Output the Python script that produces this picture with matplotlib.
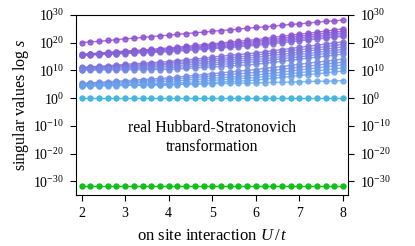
import numpy as np
import matplotlib
matplotlib.use('Agg')
import matplotlib.pyplot as plt
from matplotlib.colors import to_rgb

plt.rcParams['font.family'] = ['Liberation Serif', 'DejaVu Serif']
plt.rcParams['mathtext.fontset'] = 'custom'
plt.rcParams['mathtext.rm'] = 'Liberation Serif'
plt.rcParams['mathtext.it'] = 'Liberation Serif:italic'

# on-site interaction U/t
U = [2.0, 2.2, 2.4, 2.6, 2.8, 3.0, 3.2, 3.4, 3.6, 3.8, 4.0, 4.2, 4.4, 4.6, 4.8, 5.0,
     5.2, 5.4, 5.6, 5.8, 6.0, 6.2, 6.4, 6.6, 6.8, 7.0, 7.2, 7.4, 7.6, 7.8, 8.0]

# log10 of the singular values, largest first
top = [20.0, 20.3, 20.5, 20.8, 21.1, 21.4, 21.6, 21.9, 22.2, 22.5, 22.7, 23.0, 23.3, 23.6, 23.8, 24.1,
       24.4, 24.6, 24.9, 25.2, 25.5, 25.7, 26.0, 26.3, 26.6, 26.8, 27.1, 27.4, 27.7, 27.9, 28.2]
band2 = [
    [15.8, 16.0, 16.3, 16.5, 16.7, 17.0, 17.2, 17.4, 17.6, 17.9, 18.1, 18.4, 18.7, 19.0, 19.3, 19.6,
     19.9, 20.2, 20.5, 20.8, 21.1, 21.5, 21.9, 22.3, 22.7, 23.1, 23.4, 23.8, 24.2, 24.6, 25.0],
    [15.7, 15.9, 16.1, 16.3, 16.5, 16.7, 16.9, 17.1, 17.3, 17.5, 17.7, 18.0, 18.3, 18.5, 18.8, 19.1,
     19.4, 19.7, 19.9, 20.2, 20.5, 20.9, 21.2, 21.6, 22.0, 22.4, 22.7, 23.1, 23.5, 23.8, 24.2],
    [15.6, 15.8, 16.0, 16.1, 16.3, 16.5, 16.7, 16.9, 17.0, 17.2, 17.4, 17.7, 17.9, 18.2, 18.4, 18.7,
     19.0, 19.2, 19.5, 19.7, 20.0, 20.4, 20.7, 21.1, 21.4, 21.8, 22.1, 22.5, 22.8, 23.2, 23.5],
    [15.5, 15.7, 15.8, 16.0, 16.1, 16.3, 16.4, 16.6, 16.7, 16.9, 17.0, 17.3, 17.5, 17.8, 18.0, 18.3,
     18.5, 18.8, 19.0, 19.3, 19.5, 19.8, 20.2, 20.5, 20.9, 21.2, 21.5, 21.9, 22.2, 22.6, 22.9],
    [15.4, 15.5, 15.7, 15.8, 15.9, 16.1, 16.2, 16.3, 16.4, 16.6, 16.7, 16.9, 17.2, 17.4, 17.6, 17.9,
     18.1, 18.3, 18.5, 18.8, 19.0, 19.3, 19.7, 20.0, 20.3, 20.7, 21.0, 21.3, 21.6, 22.0, 22.3],
]
band3 = [
    [11.1, 11.3, 11.5, 11.7, 11.9, 12.2, 12.4, 12.6, 12.8, 13.0, 13.2, 13.5, 13.8, 14.1, 14.4, 14.8,
     15.1, 15.4, 15.7, 16.0, 16.3, 16.7, 17.1, 17.5, 17.9, 18.3, 18.7, 19.1, 19.5, 19.9, 20.3],
    [10.9, 11.1, 11.2, 11.4, 11.6, 11.8, 11.9, 12.1, 12.3, 12.4, 12.6, 12.9, 13.2, 13.5, 13.8, 14.1,
     14.3, 14.6, 14.9, 15.2, 15.5, 15.9, 16.3, 16.7, 17.1, 17.5, 17.8, 18.2, 18.6, 19.0, 19.4],
    [10.7, 10.8, 11.0, 11.1, 11.3, 11.4, 11.5, 11.7, 11.8, 12.0, 12.1, 12.4, 12.6, 12.9, 13.1, 13.4,
     13.7, 13.9, 14.2, 14.4, 14.7, 15.1, 15.5, 15.8, 16.2, 16.6, 17.0, 17.4, 17.7, 18.1, 18.5],
    [10.5, 10.6, 10.7, 10.8, 10.9, 11.0, 11.1, 11.2, 11.3, 11.4, 11.5, 11.7, 12.0, 12.2, 12.5, 12.7,
     12.9, 13.2, 13.4, 13.7, 13.9, 14.3, 14.6, 15.0, 15.4, 15.8, 16.1, 16.5, 16.9, 17.2, 17.6],
    [10.3, 10.4, 10.4, 10.5, 10.5, 10.6, 10.7, 10.7, 10.8, 10.8, 10.9, 11.1, 11.3, 11.6, 11.8, 12.0,
     12.2, 12.4, 12.7, 12.9, 13.1, 13.5, 13.8, 14.2, 14.6, 14.9, 15.3, 15.7, 16.1, 16.4, 16.8],
    [10.1, 10.1, 10.1, 10.2, 10.2, 10.2, 10.2, 10.2, 10.3, 10.3, 10.3, 10.5, 10.7, 10.9, 11.1, 11.3,
     11.4, 11.6, 11.8, 12.0, 12.2, 12.6, 12.9, 13.3, 13.7, 14.1, 14.4, 14.8, 15.2, 15.5, 15.9],
]
band4 = [
    [5.3, 5.5, 5.7, 5.9, 6.1, 6.3, 6.5, 6.7, 6.9, 7.1, 7.3, 7.6, 7.9, 8.2, 8.5, 8.8,
     9.1, 9.4, 9.7, 10.0, 10.3, 10.7, 11.1, 11.4, 11.8, 12.2, 12.6, 13.0, 13.3, 13.7, 14.1],
    [5.1, 5.3, 5.4, 5.6, 5.7, 5.9, 6.1, 6.2, 6.4, 6.5, 6.7, 7.0, 7.2, 7.5, 7.7, 8.0,
     8.3, 8.5, 8.8, 9.0, 9.3, 9.7, 10.0, 10.4, 10.8, 11.2, 11.5, 11.9, 12.3, 12.6, 13.0],
    [4.9, 5.0, 5.1, 5.2, 5.3, 5.5, 5.6, 5.7, 5.8, 5.9, 6.0, 6.2, 6.5, 6.7, 6.9, 7.2,
     7.4, 7.6, 7.8, 8.1, 8.3, 8.7, 9.0, 9.4, 9.8, 10.2, 10.5, 10.9, 11.3, 11.6, 12.0],
    [4.7, 4.8, 4.8, 4.9, 4.9, 5.0, 5.1, 5.1, 5.2, 5.2, 5.3, 5.5, 5.7, 5.9, 6.1, 6.4,
     6.6, 6.8, 7.0, 7.2, 7.4, 7.8, 8.1, 8.5, 8.8, 9.2, 9.5, 9.9, 10.2, 10.6, 10.9],
    [4.5, 4.5, 4.5, 4.6, 4.6, 4.6, 4.6, 4.6, 4.7, 4.7, 4.7, 4.9, 5.1, 5.2, 5.4, 5.6,
     5.8, 6.0, 6.1, 6.3, 6.5, 6.8, 7.2, 7.5, 7.8, 8.2, 8.5, 8.8, 9.1, 9.5, 9.8],
]
single = [4.3, 4.4, 4.4, 4.5, 4.5, 4.6, 4.7, 4.7, 4.8, 4.8, 4.9, 5.0, 5.0, 5.1, 5.1, 5.2,
          5.3, 5.3, 5.4, 5.4, 5.5, 5.6, 5.7, 5.7, 5.8, 5.9, 6.0, 6.1, 6.1, 6.2, 6.3]
unit = [0.0, 0.0, 0.0, 0.0, 0.0, 0.0, 0.0, 0.0, 0.0, 0.0, 0.0, 0.0, 0.0, 0.0, 0.0, 0.0,
        0.0, 0.0, 0.0, 0.0, 0.0, 0.0, 0.0, 0.0, 0.0, 0.0, 0.0, 0.0, 0.0, 0.0, 0.0]
tiny = [-31.8, -31.8, -31.8, -31.8, -31.8, -31.8, -31.8, -31.8, -31.8, -31.8, -31.8,
        -31.8, -31.8, -31.8, -31.8, -31.8, -31.8, -31.8, -31.8, -31.8, -31.8, -31.8,
        -31.8, -31.8, -31.8, -31.8, -31.8, -31.8, -31.8, -31.8, -31.8]

yticks = [1e-30, 1e-20, 1e-10, 1e0, 1e10, 1e20, 1e30]

series = [top] + band2 + band3 + band4 + [single]


def blend(c1, c2, t):
    a, b = np.array(to_rgb(c1)), np.array(to_rgb(c2))
    return tuple(a + (b - a) * t)


fig = plt.figure(figsize=(4.15, 2.46), dpi=100)
ax = fig.add_axes([0.183, 0.207, 0.656, 0.732])

n = len(series)
for i, s in enumerate(series):
    col = blend('#8e4cd0', '#66a4ec', i / (n - 1))
    ax.plot(U, 10.0 ** np.array(s), '-o', color=col, ms=3.6, lw=1.0, alpha=0.8)
ax.plot(U, 10.0 ** np.array(unit), '-o', color='#47b6de', ms=3.6, lw=1.0)
ax.plot(U, 10.0 ** np.array(tiny), '-o', color='#10c018', ms=3.6, lw=1.0)

ax.set_yscale('log')
ax.set_ylim(1e-35, 1e30)
ax.set_xlim(1.87, 8.12)
ax.set_yticks(yticks)
ax.minorticks_off()
ax.set_xticks([2, 3, 4, 5, 6, 7, 8])
ax.tick_params(which='both', direction='out', length=4.5, width=0.8, pad=4,
               right=True, labelright=True, labelsize=10)

ax.set_xlabel('on site interaction $U\\,/\\,t$', fontsize=12, labelpad=6)
ax.set_ylabel('singular values $\\log\\,s$', fontsize=11.5, labelpad=2)
ax.text(0.5, 0.32, 'real Hubbard-Stratonovich\ntransformation', transform=ax.transAxes,
        ha='center', va='center', fontsize=11.3, linespacing=1.2)

fig.savefig('out.png', dpi=100)
